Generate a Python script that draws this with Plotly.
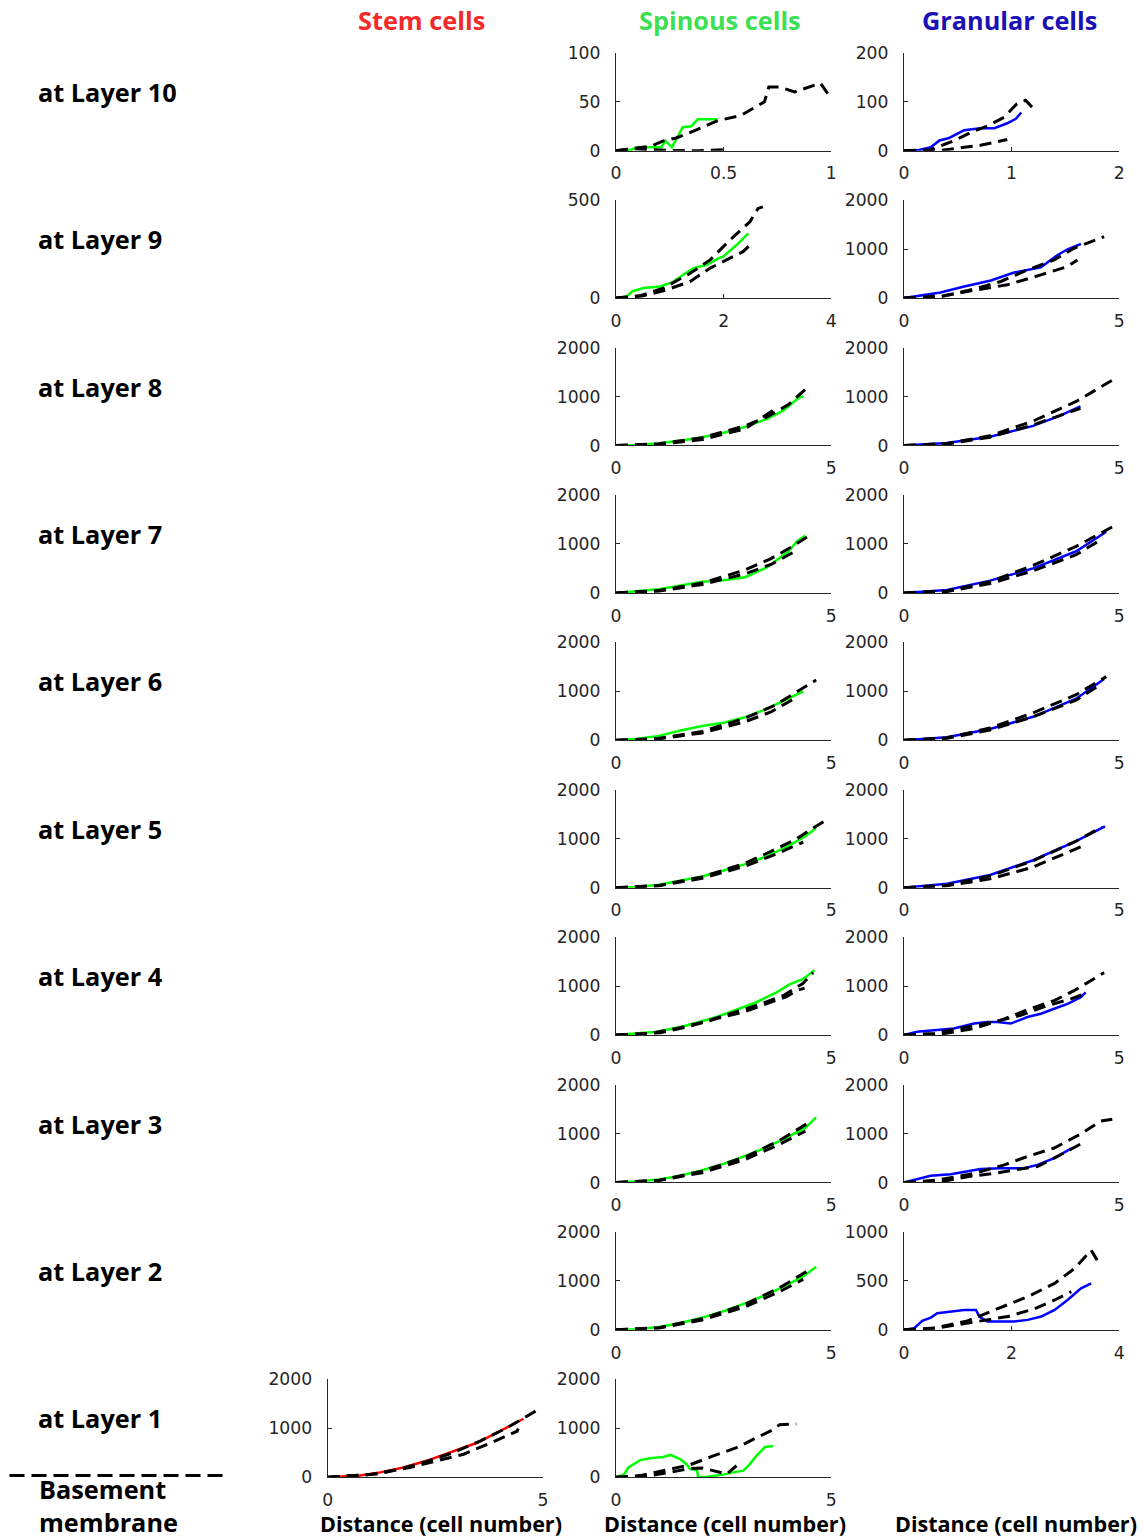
import plotly.graph_objects as go

# ---------------------------------------------------------------------------
# Curves: each list holds (distance in cell numbers, value) pairs.
# "cell" = measured curve for the cell type, "ref_a"/"ref_b" = black dashed.
# ---------------------------------------------------------------------------

# Layer 10
spin_l10_cell = [(0, 0), (0.07, 1), (0.1, 3.5), (0.21, 3.5), (0.23, 10), (0.26, 3.5),
                 (0.31, 24), (0.35, 25), (0.38, 32), (0.47, 32)]
spin_l10_ref_a = [(0, 0), (0.16, 4.5), (0.22, 10), (0.28, 13), (0.36, 20), (0.47, 30.5),
                  (0.58, 36), (0.69, 50), (0.71, 65), (0.76, 65), (0.83, 60), (0.95, 69), (1.0, 53)]
spin_l10_ref_b = [(0, 0), (0.08, 2), (0.24, 0.3), (0.38, 0), (0.5, 1)]
gran_l10_cell = [(0, 0), (0.14, 1.4), (0.25, 7), (0.33, 21), (0.42, 26), (0.56, 42),
                 (0.71, 46), (0.84, 46), (0.96, 56), (1.04, 65), (1.09, 78)]
gran_l10_ref_a = [(0, 0), (0.25, 2), (0.47, 21), (0.65, 40), (0.78, 51), (0.93, 68),
                  (1.05, 96), (1.13, 103), (1.19, 89)]
gran_l10_ref_b = [(0, 0), (0.34, 0.5), (0.56, 7), (0.71, 11), (0.96, 23)]

# Layer 9
spin_l9_cell = [(0, 0), (0.2, 8), (0.3, 34), (0.51, 51), (0.82, 59), (1.04, 80), (1.25, 119),
                (1.44, 153), (1.69, 170), (1.9, 203), (1.99, 212), (2.24, 271), (2.46, 331)]
spin_l9_ref_a = [(0, 0), (0.45, 12), (0.88, 51), (1.38, 127), (1.75, 195), (2.12, 297),
                 (2.49, 390), (2.64, 458), (2.73, 466)]
spin_l9_ref_b = [(0, 0), (0.51, 12), (0.94, 42), (1.38, 85), (1.75, 153), (2.12, 203),
                 (2.36, 237), (2.49, 271)]
gran_l9_cell = [(0, 0), (0.31, 47), (0.85, 115), (1.4, 237), (2.02, 359), (2.56, 522),
                (3.18, 630), (3.57, 881), (3.8, 997), (4.11, 1105)]
gran_l9_ref_a = [(0, 0), (0.93, 47), (1.63, 183), (2.25, 339), (2.87, 576), (3.49, 780),
                 (3.95, 1017), (4.65, 1254)]
gran_l9_ref_b = [(0, 0), (0.7, 5), (1.47, 136), (2.4, 271), (3.18, 475), (3.8, 644), (4.03, 780)]

# Layer 8
spin_l8_cell = [(0, 0), (0.5, 12), (1, 45), (1.5, 95), (2, 170), (2.5, 260), (3, 380),
                (3.5, 540), (3.9, 720), (4.1, 880), (4.25, 980), (4.35, 1000)]
spin_l8_ref_a = [(0, 0), (1, 35), (2, 160), (3, 400), (3.5, 580), (4, 830), (4.4, 1150)]
spin_l8_ref_b = [(0, 0), (1, 25), (2, 120), (3, 340), (3.72, 760)]
gran_l8_cell = [(0, 0), (1, 50), (2, 180), (3, 400), (3.6, 600), (4.1, 800)]
gran_l8_ref_a = [(0, 0), (1, 40), (2, 200), (3, 500), (4, 900), (4.85, 1340)]
gran_l8_ref_b = [(0, 0), (1, 30), (2, 170), (3, 420), (4.1, 760)]

# Layer 7
spin_l7_cell = [(0, 0), (0.4, 30), (1, 75), (1.5, 150), (2, 230), (2.5, 260), (3, 320),
                (3.5, 520), (4, 840), (4.2, 1050), (4.4, 1170)]
spin_l7_ref_a = [(0, 0), (1, 50), (2, 200), (3, 470), (3.6, 700), (4.1, 950), (4.5, 1180)]
spin_l7_ref_b = [(0, 0), (1, 40), (2, 170), (3, 390), (3.6, 580), (4.1, 820)]
gran_l7_cell = [(0, 0), (1, 60), (2, 250), (3, 500), (4, 850), (4.7, 1250)]
gran_l7_ref_a = [(0, 0), (1, 40), (2, 230), (3, 560), (4, 950), (4.95, 1400)]
gran_l7_ref_b = [(0, 0), (1, 30), (2, 190), (3, 450), (4, 780), (4.6, 1100)]

# Layer 6
spin_l6_cell = [(0, 0), (0.5, 30), (1, 90), (1.5, 200), (2, 290), (2.5, 360), (3, 470),
                (3.5, 640), (4, 850), (4.35, 1000)]
spin_l6_ref_a = [(0, 0), (1, 40), (2, 180), (3, 450), (3.7, 720), (4.2, 980), (4.65, 1230)]
spin_l6_ref_b = [(0, 0), (1, 30), (2, 150), (3, 380), (3.6, 580), (4.2, 880)]
gran_l6_cell = [(0, 0), (1, 60), (2, 230), (3, 480), (4, 850), (4.65, 1250)]
gran_l6_ref_a = [(0, 0), (1, 50), (2, 250), (3, 560), (4, 930), (4.7, 1300)]
gran_l6_ref_b = [(0, 0), (1, 40), (2, 210), (3, 480), (4, 820), (4.5, 1100)]

# Layer 5
spin_l5_cell = [(0, 0), (0.5, 15), (1, 60), (1.5, 140), (2, 230), (2.5, 350), (3, 480),
                (3.5, 640), (4, 850), (4.4, 1050), (4.65, 1220)]
spin_l5_ref_a = [(0, 0), (1, 45), (2, 220), (3, 500), (3.6, 740), (4.2, 1000), (4.6, 1230),
                 (4.9, 1390)]
spin_l5_ref_b = [(0, 0), (1, 40), (2, 190), (3, 440), (3.7, 680), (4.35, 930)]
gran_l5_cell = [(0, 0), (1, 80), (2, 260), (3, 560), (4, 950), (4.67, 1250)]
gran_l5_ref_a = [(0, 0), (1, 50), (2, 240), (3, 550), (4, 950), (4.6, 1240)]
gran_l5_ref_b = [(0, 0), (1, 40), (2, 180), (3, 420), (4.25, 890)]

# Layer 4
spin_l4_cell = [(0, 0), (0.49, 34), (0.95, 67), (1.57, 181), (1.95, 268), (2.34, 369),
                (2.8, 517), (3.26, 671), (3.73, 872), (4.04, 1040), (4.34, 1141), (4.61, 1322)]
spin_l4_ref_a = [(0, 0), (0.79, 34), (1.41, 134), (2.03, 268), (2.65, 436), (3.26, 604),
                 (3.88, 805), (4.34, 1054), (4.58, 1275)]
spin_l4_ref_b = [(0, 0), (1.03, 47), (1.72, 181), (2.34, 336), (2.96, 470), (3.5, 638),
                 (3.96, 785), (4.19, 906), (4.38, 960)]
gran_l4_cell = [(0, 0), (0.31, 67), (0.7, 100), (1.16, 134), (1.63, 235), (1.94, 268),
                (2.17, 268), (2.48, 235), (2.87, 369), (3.18, 436), (3.49, 537), (3.8, 638),
                (4.11, 772), (4.22, 872)]
gran_l4_ref_a = [(0, 0), (0.85, 20), (1.63, 134), (2.25, 302), (2.87, 517), (3.49, 705),
                 (3.95, 906), (4.34, 1107), (4.65, 1275)]
gran_l4_ref_b = [(0, 0), (0.7, 34), (1.47, 168), (2.09, 268), (2.71, 403), (3.33, 604),
                 (3.88, 738), (4.19, 839)]

# Layer 3
spin_l3_cell = [(0, 0), (0.5, 20), (1, 60), (1.5, 140), (2, 250), (2.5, 380), (3, 540),
                (3.5, 720), (4, 930), (4.4, 1120), (4.65, 1330)]
spin_l3_ref_a = [(0, 0), (1, 45), (2, 230), (3, 520), (3.8, 860), (4.55, 1260)]
spin_l3_ref_b = [(0, 0), (1, 40), (2, 200), (3, 470), (3.8, 780), (4.4, 1050)]
gran_l3_cell = [(0, 0), (0.31, 69), (0.62, 138), (1.09, 166), (1.47, 234), (1.78, 276),
                (2.25, 290), (2.79, 290), (3.1, 359), (3.49, 497), (3.88, 690)]
gran_l3_ref_a = [(0, 0), (0.78, 48), (1.63, 186), (2.33, 359), (2.87, 531), (3.49, 703),
                 (4.11, 993), (4.57, 1255), (4.84, 1290)]
gran_l3_ref_b = [(0, 0), (0.78, 5), (1.47, 117), (2.09, 186), (2.71, 276), (3.1, 324),
                 (3.49, 497), (3.88, 690), (4.15, 807)]

# Layer 2
spin_l2_cell = [(0, 0), (0.5, 15), (1, 60), (1.5, 140), (2, 250), (2.5, 380), (3, 540),
                (3.5, 720), (4, 930), (4.4, 1120), (4.65, 1290)]
spin_l2_ref_a = [(0, 0), (1, 45), (2, 230), (3, 520), (3.8, 860), (4.5, 1230)]
spin_l2_ref_b = [(0, 0), (1, 40), (2, 200), (3, 470), (3.8, 780), (4.35, 1030)]
gran_l2_cell = [(0, 0), (0.19, 17), (0.34, 92), (0.5, 125), (0.62, 170), (0.87, 186),
                (1.12, 203), (1.34, 203), (1.4, 136), (1.55, 85), (2.05, 85), (2.3, 102),
                (2.55, 136), (2.8, 203), (3.04, 305), (3.29, 424), (3.48, 475)]
gran_l2_ref_a = [(0, 0), (0.5, 10), (1.18, 92), (1.74, 214), (2.3, 339), (2.8, 475),
                 (3.17, 627), (3.48, 814), (3.59, 712)]
gran_l2_ref_b = [(0, 0), (0.68, 24), (1.43, 92), (1.93, 136), (2.42, 214), (2.8, 305),
                 (3.11, 390)]

# Layer 1
stem_l1_cell = [(0, 0), (0.75, 34), (1.22, 100), (1.76, 201), (2.3, 336), (2.84, 503),
                (3.47, 705), (4.0, 940), (4.55, 1195)]
stem_l1_ref_a = [(0, 0), (0.98, 54), (1.68, 168), (2.3, 322), (2.92, 503), (3.54, 738),
                 (4.16, 1007), (4.63, 1255), (4.84, 1355)]
stem_l1_ref_b = [(0, 0), (1.14, 67), (1.91, 201), (2.53, 336), (3.16, 470), (3.85, 725),
                 (4.4, 940), (4.43, 993)]
spin_l1_cell = [(0, 0), (0.18, 54), (0.29, 200), (0.56, 350), (0.79, 390), (1.1, 416),
                (1.26, 456), (1.49, 369), (1.64, 268), (1.72, 168), (1.88, 148), (1.91, 13),
                (2.03, 0), (2.49, 54), (2.72, 100), (2.96, 134), (3.11, 268), (3.26, 436),
                (3.46, 617), (3.65, 638)]
spin_l1_ref_a = [(0, 0), (0.56, 34), (1.18, 148), (1.72, 255), (2.26, 436), (2.8, 604),
                 (3.26, 805), (3.65, 973), (3.8, 1074), (4.19, 1087)]
spin_l1_ref_b = [(0, 0), (0.64, 13), (1.26, 100), (1.72, 180), (2.0, 190), (2.34, 120),
                 (2.57, 67), (2.8, 235)]

# Labels
LAYER_NAMES = ["at Layer 10", "at Layer 9", "at Layer 8", "at Layer 7", "at Layer 6",
               "at Layer 5", "at Layer 4", "at Layer 3", "at Layer 2", "at Layer 1"]
COLUMN_TITLES = ["Stem cells", "Spinous cells", "Granular cells"]
X_TITLE = "Distance (cell number)"

# (row, column, cell curve, dashed a, dashed b, x ticks, y ticks)
panels = [
    (0, 1, spin_l10_cell, spin_l10_ref_a, spin_l10_ref_b, [0, 0.5, 1], [0, 50, 100]),
    (0, 2, gran_l10_cell, gran_l10_ref_a, gran_l10_ref_b, [0, 1, 2], [0, 100, 200]),
    (1, 1, spin_l9_cell, spin_l9_ref_a, spin_l9_ref_b, [0, 2, 4], [0, 500]),
    (1, 2, gran_l9_cell, gran_l9_ref_a, gran_l9_ref_b, [0, 5], [0, 1000, 2000]),
    (2, 1, spin_l8_cell, spin_l8_ref_a, spin_l8_ref_b, [0, 5], [0, 1000, 2000]),
    (2, 2, gran_l8_cell, gran_l8_ref_a, gran_l8_ref_b, [0, 5], [0, 1000, 2000]),
    (3, 1, spin_l7_cell, spin_l7_ref_a, spin_l7_ref_b, [0, 5], [0, 1000, 2000]),
    (3, 2, gran_l7_cell, gran_l7_ref_a, gran_l7_ref_b, [0, 5], [0, 1000, 2000]),
    (4, 1, spin_l6_cell, spin_l6_ref_a, spin_l6_ref_b, [0, 5], [0, 1000, 2000]),
    (4, 2, gran_l6_cell, gran_l6_ref_a, gran_l6_ref_b, [0, 5], [0, 1000, 2000]),
    (5, 1, spin_l5_cell, spin_l5_ref_a, spin_l5_ref_b, [0, 5], [0, 1000, 2000]),
    (5, 2, gran_l5_cell, gran_l5_ref_a, gran_l5_ref_b, [0, 5], [0, 1000, 2000]),
    (6, 1, spin_l4_cell, spin_l4_ref_a, spin_l4_ref_b, [0, 5], [0, 1000, 2000]),
    (6, 2, gran_l4_cell, gran_l4_ref_a, gran_l4_ref_b, [0, 5], [0, 1000, 2000]),
    (7, 1, spin_l3_cell, spin_l3_ref_a, spin_l3_ref_b, [0, 5], [0, 1000, 2000]),
    (7, 2, gran_l3_cell, gran_l3_ref_a, gran_l3_ref_b, [0, 5], [0, 1000, 2000]),
    (8, 1, spin_l2_cell, spin_l2_ref_a, spin_l2_ref_b, [0, 5], [0, 1000, 2000]),
    (8, 2, gran_l2_cell, gran_l2_ref_a, gran_l2_ref_b, [0, 2, 4], [0, 500, 1000]),
    (9, 0, stem_l1_cell, stem_l1_ref_a, stem_l1_ref_b, [0, 5], [0, 1000, 2000]),
    (9, 1, spin_l1_cell, spin_l1_ref_a, spin_l1_ref_b, [0, 5], [0, 1000, 2000]),
]

# ---------------------------------------------------------------------------
# Page geometry. Positions below are given in screen pixels; the page keeps
# the browser's default body margin and is fitted to the window, so each
# screen position is mapped back to a figure pixel before use.
# ---------------------------------------------------------------------------
W, H = 1143, 1539
SX, OX = 0.990, 5.5      # screen_x = SX * fig_x + OX
SY, OY = 0.9877, 8.5     # screen_y = SY * fig_y + OY


def fx(px):
    """screen x pixel -> paper fraction"""
    return ((px - OX) / SX) / W


def fy(py):
    """screen y pixel (from top) -> paper fraction"""
    return 1 - ((py - OY) / SY) / H


def fs(size):
    """screen font size -> figure font size"""
    return size / SY


ZERO_Y0 = 149.3      # zero line of the top row
ROW_STEP = 147.5
PANEL_H = 98.0
PANEL_W = 215.0
COL_X0 = [327.7, 615.7, 903.3]
LINE_COLORS = ["#ff0000", "#00ff00", "#0000ff"]
TITLE_COLORS = ["#f22a2a", "#3ce052", "#1a10b4"]
AXIS_COLOR = "#262626"
TICK_FONT = dict(family="DejaVu Sans, sans-serif", size=fs(17), color=AXIS_COLOR)
BOLD_FONT = "Open Sans, Noto Sans, sans-serif"

fig = go.Figure()
layout = dict(
    width=W, height=H, margin=dict(l=0, r=0, t=0, b=0),
    paper_bgcolor="white", plot_bgcolor="white", showlegend=False,
)

for k, (row, col, cell, ref_a, ref_b, xt, yt) in enumerate(panels, start=1):
    xname = "xaxis" if k == 1 else f"xaxis{k}"
    yname = "yaxis" if k == 1 else f"yaxis{k}"
    xref = "x" if k == 1 else f"x{k}"
    yref = "y" if k == 1 else f"y{k}"
    zero_px = ZERO_Y0 + ROW_STEP * row
    x0 = COL_X0[col]
    common = dict(
        showgrid=False, zeroline=False, showline=True, linecolor=AXIS_COLOR, linewidth=1,
        ticks="inside", ticklen=4, tickwidth=1, tickcolor=AXIS_COLOR, tickfont=TICK_FONT,
        fixedrange=True,
    )
    layout[xname] = dict(
        common, domain=[fx(x0), fx(x0 + PANEL_W)], anchor=yref,
        range=[xt[0], xt[-1]], tickmode="array", tickvals=xt,
        ticktext=[f"{v:g}" for v in xt], ticklabelstandoff=7,
    )
    layout[yname] = dict(
        common, domain=[fy(zero_px), fy(zero_px - PANEL_H)], anchor=xref,
        range=[yt[0], yt[-1]], tickmode="array", tickvals=yt,
        ticktext=[f"{v:g}" for v in yt], ticklabelstandoff=11,
    )
    fig.add_trace(go.Scatter(
        x=[p[0] for p in cell], y=[p[1] for p in cell], mode="lines",
        line=dict(color=LINE_COLORS[col], width=2.5), xaxis=xref, yaxis=yref,
        hoverinfo="skip",
    ))
    for ref in (ref_a, ref_b):
        fig.add_trace(go.Scatter(
            x=[p[0] for p in ref], y=[p[1] for p in ref], mode="lines",
            line=dict(color="black", width=3, dash="12px,7px"), xaxis=xref, yaxis=yref,
            hoverinfo="skip",
        ))

annotations = []
# Column headers
for col, (title, color) in enumerate(zip(COLUMN_TITLES, TITLE_COLORS)):
    cx = [421, 720, 1009][col]
    annotations.append(dict(
        text=f"<b>{title}</b>", x=fx(cx), y=fy(18.5), xref="paper", yref="paper",
        xanchor="center", yanchor="middle", showarrow=False,
        font=dict(family=BOLD_FONT, size=fs(25), color=color),
    ))
# Row labels
for row, name in enumerate(LAYER_NAMES):
    cy = ZERO_Y0 + ROW_STEP * row - 59
    annotations.append(dict(
        text=f"<b>{name}</b>", x=fx(36), y=fy(cy), xref="paper", yref="paper",
        xanchor="left", yanchor="middle", showarrow=False,
        font=dict(family=BOLD_FONT, size=fs(25), color="black"),
    ))
# X-axis titles under each column
for col in range(3):
    cx = [441, 725, 1015][col]
    annotations.append(dict(
        text=f"<b>{X_TITLE}</b>", x=fx(cx), y=fy(1523), xref="paper", yref="paper",
        xanchor="center", yanchor="middle", showarrow=False,
        font=dict(family=BOLD_FONT, size=fs(21.3), color="black"),
    ))
# Basement membrane label
for text, cy in (("Basement", 1488.5), ("membrane", 1521.5)):
    annotations.append(dict(
        text=f"<b>{text}</b>", x=fx(37), y=fy(cy), xref="paper", yref="paper",
        xanchor="left", yanchor="middle", showarrow=False,
        font=dict(family=BOLD_FONT, size=fs(25), color="black"),
    ))
layout["annotations"] = annotations
layout["shapes"] = [dict(
    type="line", xref="paper", yref="paper", x0=fx(10), x1=fx(225),
    y0=fy(1475), y1=fy(1475),
    line=dict(color="black", width=3, dash="15px,7px"),
)]

fig.update_layout(**layout)
fig.write_html("out.html")
